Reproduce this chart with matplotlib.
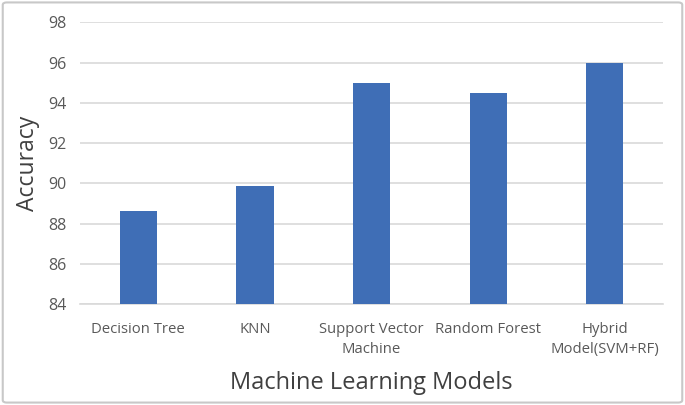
import matplotlib
matplotlib.use('agg')
from matplotlib import pyplot as plt
from matplotlib.patches import FancyBboxPatch

plt.rcParams['font.family'] = ['Open Sans', 'DejaVu Sans']

# data
models = ['Decision Tree', 'KNN', 'Support Vector\nMachine', 'Random Forest',
          'Hybrid\nModel(SVM+RF)']
accuracy = [88.6, 89.85, 95.0, 94.5, 96.0]
yticks = [84, 86, 88, 90, 92, 94, 96, 98]

text_grey = '#595959'
grid_grey = '#D9D9D9'
bar_blue = '#3F6EB6'

fig = plt.figure(figsize=(6.85, 4.05), dpi=100)
ax = fig.add_axes([0.1168, 0.2494, 0.8512, 0.6956])

ax.bar(range(len(models)), accuracy, width=0.32, color=bar_blue, zorder=3)

ax.set_ylim(84, 98)
ax.set_xlim(-0.5, len(models) - 0.5)
ax.set_yticks(yticks)
ax.set_xticks(range(len(models)))
ax.set_xticklabels(models, fontsize=10.7, color=text_grey, linespacing=1.45)
ax.tick_params(axis='y', length=0, pad=10, labelsize=11.5, labelcolor=text_grey)
ax.tick_params(axis='x', length=0, pad=13)
ax.grid(axis='y', color=grid_grey, lw=1.2, zorder=0)

for side in ['top', 'right', 'left']:
    ax.spines[side].set_visible(False)
ax.spines['bottom'].set_color(grid_grey)
ax.spines['bottom'].set_linewidth(1.2)

ax.set_ylabel('Accuracy', fontsize=16.5, color='#404040', labelpad=6)
ax.set_xlabel('Machine Learning Models', fontsize=17, color='#404040',
              labelpad=10)

# light grey frame around the whole chart
frame = FancyBboxPatch((0.004, 0.006), 0.992, 0.988,
                       boxstyle='round,pad=0,rounding_size=0.006',
                       transform=fig.transFigure, fill=False,
                       edgecolor='#C8C8C8', lw=1.5)
fig.patches.append(frame)

fig.savefig('out.png', dpi=100)
